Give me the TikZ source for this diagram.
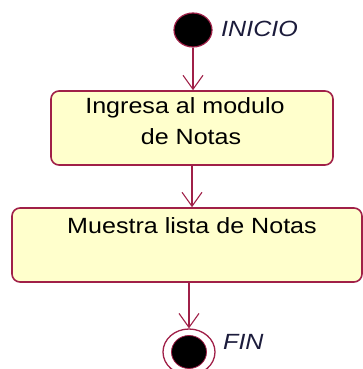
\documentclass[tikz,border=0pt]{standalone}
\usepackage{fontspec}
\setmainfont{Liberation Sans}
\usetikzlibrary{shapes.geometric,arrows.meta}
\definecolor{umlline}{RGB}{160,32,72}
\definecolor{umlfill}{RGB}{255,255,204}
\definecolor{labeltext}{RGB}{28,28,60}
\tikzset{
  actbox/.style={draw=umlline, fill=umlfill, line width=1.6pt, rounded corners=8pt, inner sep=0pt},
  flow/.style={draw=umlline, line width=1.3pt, -{Straight Barb[length=14pt,width=20pt,line width=1.1pt]}},
  boxtext/.style={font=\fontsize{22}{26}\selectfont, text=black, inner sep=0pt},
  statelabel/.style={font=\fontsize{22}{26}\selectfont\itshape, text=labeltext, inner sep=0pt, anchor=west},
}
\begin{document}
\begin{tikzpicture}[x=1pt,y=-1pt]
\useasboundingbox (0,0) rectangle (363,369);
% start
\node[ellipse, draw=umlline, fill=black, line width=1.2pt, minimum width=38pt, minimum height=34pt, inner sep=0pt] (start) at (193,30) {};
\node[statelabel] (inicio) at (221,29) {\scalebox{1.14}[1]{INICIO}};
% box 1
\node[actbox, minimum width=282pt, minimum height=74pt] (b1) at (192,128) {};
\node[boxtext] (b1a) at (185,108) {\scalebox{1.14}[1]{Ingresa al modulo}};
\node[boxtext] (b1b) at (191,137) {\scalebox{1.14}[1]{de Notas}};
% box 2
\node[actbox, minimum width=350pt, minimum height=74pt] (b2) at (187,245) {};
\node[boxtext] (b2a) at (192,226) {\scalebox{1.14}[1]{Muestra lista de Notas}};
% end
\node[ellipse, draw=umlline, fill=white, line width=1.3pt, minimum width=52pt, minimum height=46pt, inner sep=0pt] (endo) at (189,352) {};
\node[ellipse, fill=black, draw=umlline, line width=0.8pt, minimum width=35pt, minimum height=33pt, inner sep=0pt] (endi) at (189,352) {};
\node[statelabel] (fin) at (223,342) {\scalebox{1.14}[1]{FIN}};
% flows
\draw[flow] (start.south) -- (start.south |- b1.north);
\draw[flow] (b1.south) -- (b1.south |- b2.north);
\draw[flow] (b2.south -| endo.north) -- (endo.north);
\end{tikzpicture}
\end{document}
